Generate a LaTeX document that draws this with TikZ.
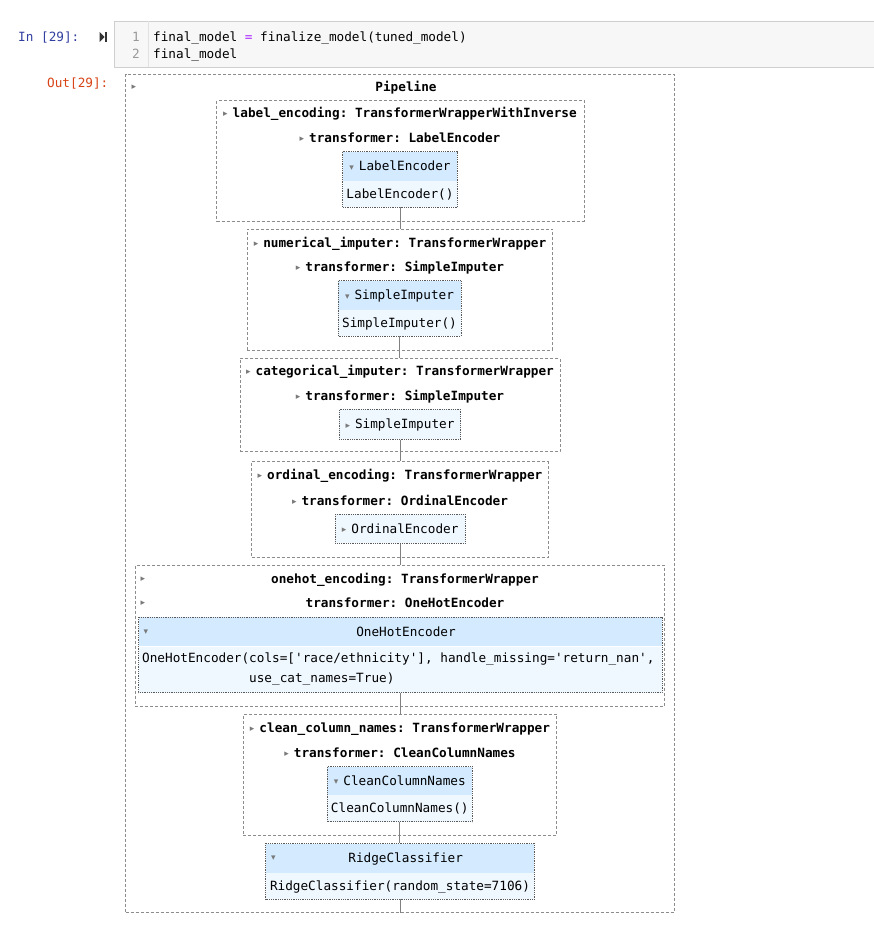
\documentclass[tikz,border=0pt]{standalone}
\usepackage{fontspec}
\setmonofont{DejaVu Sans Mono}
\newfontfamily\trifont{DejaVu Sans}
\usetikzlibrary{positioning}

\definecolor{headblue}{HTML}{D4EBFF}
\definecolor{bodyblue}{HTML}{F0F8FF}
\definecolor{boxgray}{HTML}{8C8C8C}
\definecolor{estgray}{HTML}{5A5A5A}
\definecolor{linegray}{HTML}{808080}
\definecolor{arrgray}{HTML}{7A7A7A}
\definecolor{codebg}{HTML}{F7F7F7}
\definecolor{codeline}{HTML}{CFCFCF}
\definecolor{inblue}{HTML}{303F9F}
\definecolor{outred}{HTML}{D84315}
\definecolor{oppurple}{HTML}{AA22FF}
\definecolor{numgray}{HTML}{999999}
\definecolor{icongray}{HTML}{333333}

\newcommand\cellfont{\ttfamily\fontsize{12.7}{15}\selectfont}
\newcommand\rt{\raisebox{0.8pt}{\color{arrgray}\trifont\fontsize{9}{9}\selectfont ▸}\hspace{5pt}}
\newcommand\dn{\raisebox{0.8pt}{\color{arrgray}\trifont\fontsize{9}{9}\selectfont ▾}\hspace{5pt}}

\begin{document}
\begin{tikzpicture}[x=1pt, y=-1pt,
    wrap/.style={draw=boxgray, dash pattern=on 3pt off 2pt, line width=0.8pt, inner sep=0},
    txt/.style={font=\cellfont, inner sep=0, text height=11pt, text depth=2pt},
    lbl/.style={txt, font=\cellfont\bfseries},
    head/.style={txt, fill=headblue, minimum height=29pt},
    body/.style={txt, fill=bodyblue, minimum height=25.5pt},
    closed/.style={txt, fill=bodyblue, draw=estgray, densely dotted, line width=0.8pt},
    estline/.style={draw=estgray, densely dotted, line width=0.8pt},
    conn/.style={draw=linegray, line width=1pt},
    tri/.style={inner sep=0, text=arrgray, font=\trifont\fontsize{9}{9}\selectfont}]
\useasboundingbox (0,0) rectangle (874,942);

% input cell
\fill[codebg] (114,21) rectangle (874,67);
\draw[codeline] (874,21) -| (114,67) -- (874,67);
\draw[codeline!60] (148,21) -- (148,67);
\node[txt, text=inblue, anchor=west] (inp) at (18,37) {In [29]:};
\fill[icongray] (99.5,32) -- (99.5,42) -- (104.5,37) -- cycle;
\fill[icongray] (104.8,32) rectangle (106.8,42);
\node[txt, text=numgray] (n1) at (136,37) {1};
\node[txt, text=numgray] (n2) at (136,54) {2};
\node[txt, anchor=west] (c1) at (153,37) {final\_model {\color{oppurple}=} finalize\_model(tuned\_model)};
\node[txt, anchor=west] (c2) at (153,54) {final\_model};
\node[txt, text=outred, anchor=west] (outp) at (47,83.3) {Out[29]:};

% pipeline
\node[wrap, minimum width=548.6pt, minimum height=838.3pt] (w0) at (400,493.2) {};
\node[tri] (a0) at (134,87) {▸};
\node[lbl] (l0) at (406,86.7) {Pipeline};

% label_encoding
\node[wrap, minimum width=367.3pt, minimum height=120.3pt] (w1) at (400.3,160.8) {};
\node[lbl] (l1) at (400,112.7) {\rt label\_encoding: TransformerWrapperWithInverse};
\node[lbl] (t1) at (400,137.7) {\rt transformer: LabelEncoder};
\node[head, minimum width=114.6pt, anchor=north] (h1) at (400,151.7) {\dn LabelEncoder};
\node[body, minimum width=114.6pt, below=0pt of h1] (b1) {LabelEncoder()};
\draw[estline] (h1.north west) rectangle (b1.south east);

% numerical_imputer
\node[wrap, minimum width=305.4pt, minimum height=121pt] (w2) at (400,289.5) {};
\node[lbl] (l2) at (400,242.7) {\rt numerical\_imputer: TransformerWrapper};
\node[lbl] (t2) at (400,266.7) {\rt transformer: SimpleImputer};
\node[head, minimum width=122.4pt, anchor=north] (h2) at (399.5,280.7) {\dn SimpleImputer};
\node[body, minimum width=122.4pt, below=0pt of h2] (b2) {SimpleImputer()};
\draw[estline] (h2.north west) rectangle (b2.south east);

% categorical_imputer
\node[wrap, minimum width=320pt, minimum height=93.4pt] (w3) at (400,405) {};
\node[lbl] (l3) at (400,370.7) {\rt categorical\_imputer: TransformerWrapper};
\node[lbl] (t3) at (400,395.7) {\rt transformer: SimpleImputer};
\node[closed, minimum width=121.4pt, minimum height=30pt] (e3) at (400,424.3) {\rt SimpleImputer};

% ordinal_encoding
\node[wrap, minimum width=296.6pt, minimum height=95.3pt] (w4) at (400,509.3) {};
\node[lbl] (l4) at (400,475) {\rt ordinal\_encoding: TransformerWrapper};
\node[lbl] (t4) at (400,500.7) {\rt transformer: OrdinalEncoder};
\node[closed, minimum width=129.7pt, minimum height=29pt] (e4) at (400.2,528.8) {\rt OrdinalEncoder};

% onehot_encoding
\node[wrap, minimum width=529.2pt, minimum height=141.3pt] (w5) at (400,636) {};
\node[tri] (a5) at (143,579) {▸};
\node[lbl] (l5) at (405,579) {onehot\_encoding: TransformerWrapper};
\node[tri] (a5t) at (143,603.3) {▸};
\node[lbl] (t5) at (405,603.3) {transformer: OneHotEncoder};
\node[head, minimum width=523.2pt, anchor=north] (h5) at (400.2,617) {};
\node[tri] (a5h) at (146,632) {▾};
\node[txt] (h5t) at (406,632) {OneHotEncoder};
\node[body, minimum width=523.2pt, minimum height=46pt, below=0pt of h5] (b5) {};
\node[txt, anchor=west] (b5a) at (142,658) {OneHotEncoder(cols=['race/ethnicity'], handle\_missing='return\_nan',};
\node[txt, anchor=west] (b5b) at (249,678) {use\_cat\_names=True)};
\draw[estline] (h5.north west) rectangle (b5.south east);

% clean_column_names
\node[wrap, minimum width=313.4pt, minimum height=121.4pt] (w6) at (400,775) {};
\node[lbl] (l6) at (400,727.7) {\rt clean\_column\_names: TransformerWrapper};
\node[lbl] (t6) at (400,752.7) {\rt transformer: CleanColumnNames};
\node[head, minimum width=145pt, minimum height=28pt, anchor=north] (h6) at (399.8,766.7) {\dn CleanColumnNames};
\node[body, minimum width=145pt, minimum height=26.3pt, below=0pt of h6] (b6) {CleanColumnNames()};
\draw[estline] (h6.north west) rectangle (b6.south east);

% final estimator
\node[head, minimum width=268.6pt, minimum height=29.4pt, anchor=north] (h7) at (400,843.3) {};
\node[tri] (a7) at (273.3,858) {▾};
\node[txt] (h7t) at (405.7,857.8) {RidgeClassifier};
\node[body, minimum width=268.6pt, minimum height=25.6pt, below=0pt of h7] (b7) {RidgeClassifier(random\_state=7106)};
\draw[estline] (h7.north west) rectangle (b7.south east);

% connectors
\draw[conn] (b1.south) -- (b1.south |- w2.north);
\draw[conn] (b2.south) -- (b2.south |- w3.north);
\draw[conn] (e3.south) -- (e3.south |- w4.north);
\draw[conn] (e4.south) -- (e4.south |- w5.north);
\draw[conn] (b5.south) -- (b5.south |- w6.north);
\draw[conn] (b6.south) -- (b6.south |- h7.north);
\draw[conn] (b7.south) -- (b7.south |- w0.south);
\end{tikzpicture}
\end{document}
